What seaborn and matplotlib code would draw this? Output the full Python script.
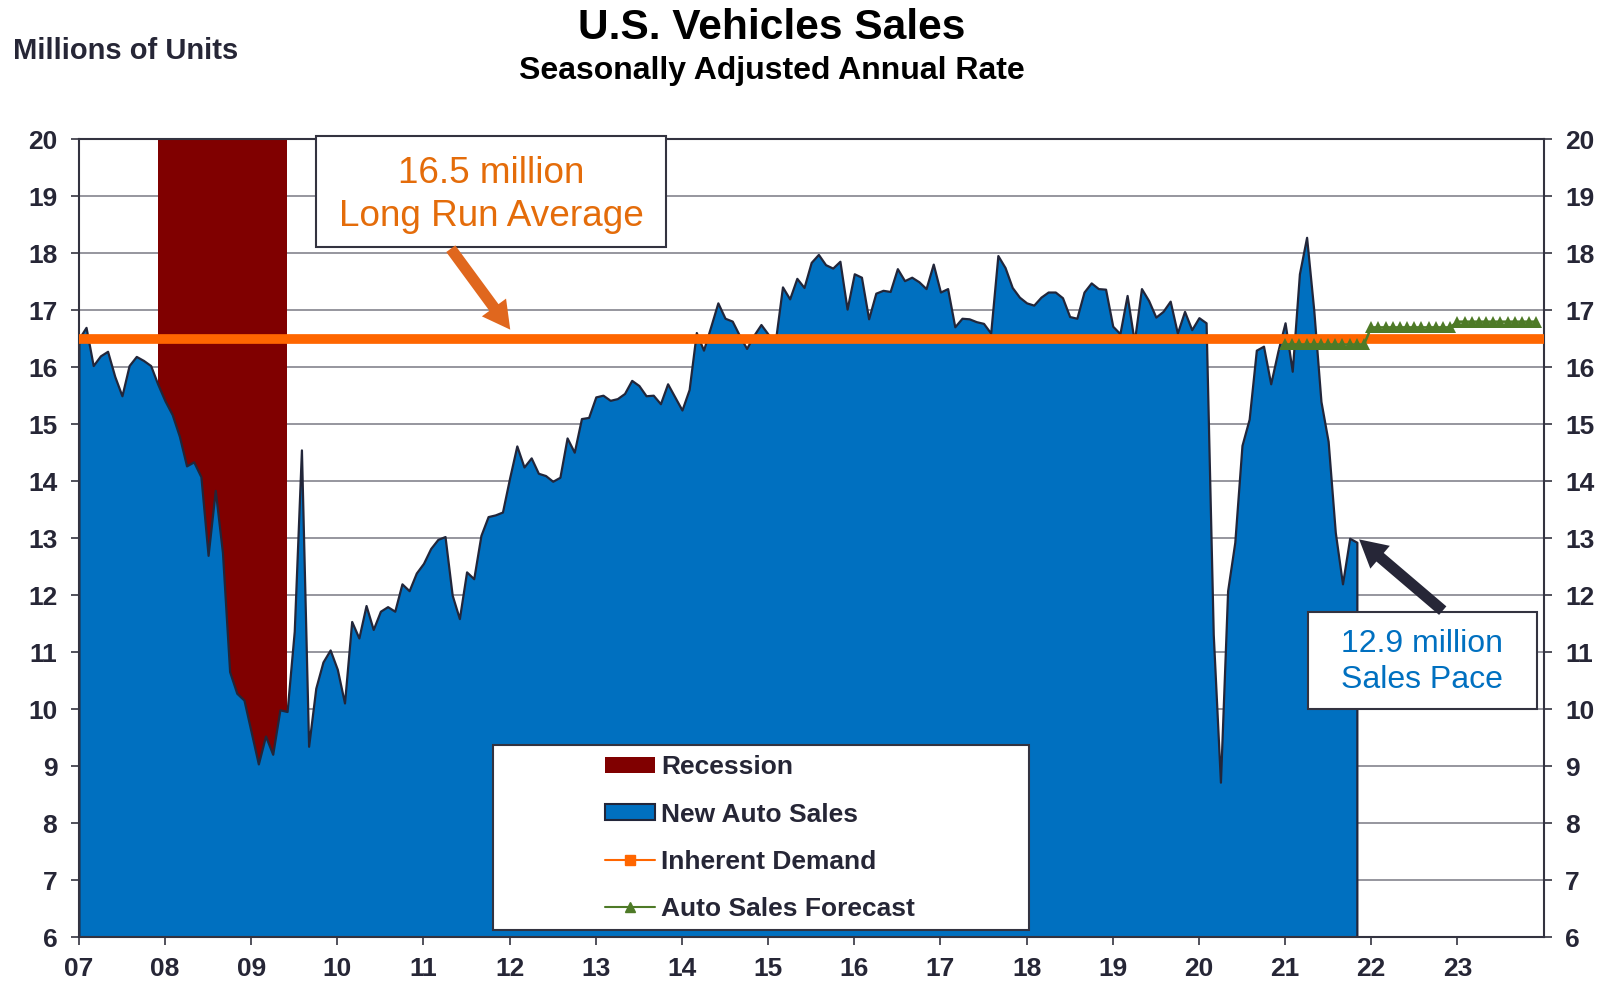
import numpy as np
import pandas as pd
import matplotlib
matplotlib.use('Agg')
import matplotlib.pyplot as plt
import seaborn as sns
from matplotlib.patches import Rectangle, Patch
from matplotlib.lines import Line2D

# New auto sales, SAAR, millions of units (monthly, Jan 2007 - Nov 2021)
sales_2007 = [16.5, 16.7, 16.03, 16.2, 16.28, 15.84, 15.5, 16.03, 16.19, 16.12, 16.03, 15.7]
sales_2008 = [15.41, 15.17, 14.79, 14.27, 14.34, 14.08, 12.7, 13.84, 12.75, 10.66, 10.28, 10.16]
sales_2009 = [9.6, 9.04, 9.53, 9.21, 9.99, 9.96, 11.37, 14.55, 9.35, 10.37, 10.83, 11.04]
sales_2010 = [10.7, 10.11, 11.54, 11.25, 11.82, 11.4, 11.72, 11.8, 11.72, 12.2, 12.08, 12.39]
sales_2011 = [12.56, 12.82, 12.98, 13.03, 12.0, 11.59, 12.41, 12.29, 13.05, 13.38, 13.41, 13.46]
sales_2012 = [14.06, 14.62, 14.25, 14.41, 14.14, 14.1, 14.0, 14.07, 14.76, 14.51, 15.1, 15.12]
sales_2013 = [15.48, 15.51, 15.42, 15.45, 15.54, 15.77, 15.68, 15.5, 15.51, 15.36, 15.71, 15.48]
sales_2014 = [15.25, 15.61, 16.61, 16.3, 16.71, 17.13, 16.86, 16.81, 16.56, 16.33, 16.56, 16.75]
sales_2015 = [16.58, 16.45, 17.41, 17.2, 17.56, 17.4, 17.84, 17.98, 17.8, 17.74, 17.86, 17.02]
sales_2016 = [17.64, 17.58, 16.85, 17.3, 17.35, 17.33, 17.73, 17.52, 17.58, 17.5, 17.38, 17.81]
sales_2017 = [17.32, 17.38, 16.71, 16.86, 16.85, 16.8, 16.77, 16.6, 17.96, 17.75, 17.4, 17.23]
sales_2018 = [17.13, 17.09, 17.23, 17.32, 17.32, 17.22, 16.89, 16.86, 17.32, 17.48, 17.38, 17.37]
sales_2019 = [16.72, 16.59, 17.26, 16.45, 17.38, 17.17, 16.88, 16.98, 17.16, 16.6, 16.98, 16.66]
sales_2020 = [16.87, 16.78, 11.31, 8.72, 12.08, 12.93, 14.63, 15.09, 16.3, 16.37, 15.71, 16.28]
sales_2021 = [16.78, 15.93, 17.64, 18.28, 17.0, 15.4, 14.7, 13.1, 12.2, 13.0, 12.93]

# Auto sales forecast (monthly, Jan 2021 - Dec 2023)
forecast_2021 = [16.4, 16.4, 16.4, 16.4, 16.4, 16.4, 16.4, 16.4, 16.4, 16.4, 16.4, 16.4]
forecast_2022 = [16.7, 16.7, 16.7, 16.7, 16.7, 16.7, 16.7, 16.7, 16.7, 16.7, 16.7, 16.7]
forecast_2023 = [16.8, 16.8, 16.8, 16.8, 16.8, 16.8, 16.8, 16.8, 16.8, 16.8, 16.8, 16.8]

inherent_demand = 16.5
recession_start = '2007-12-01'
recession_end = '2009-06-01'

year_ticks = list(range(2007, 2024))
year_labels = ['07', '08', '09', '10', '11', '12', '13', '14', '15', '16', '17',
               '18', '19', '20', '21', '22', '23']
y_ticks = list(range(6, 21))


def to_year(d):
    d = pd.to_datetime(d)
    return d.year + (d.month - 1) / 12


sales = (sales_2007 + sales_2008 + sales_2009 + sales_2010 + sales_2011 + sales_2012
         + sales_2013 + sales_2014 + sales_2015 + sales_2016 + sales_2017 + sales_2018
         + sales_2019 + sales_2020 + sales_2021)
dates = to_year(pd.date_range('2007-01-01', periods=len(sales), freq='MS'))
forecast = forecast_2021 + forecast_2022 + forecast_2023
forecast_dates = to_year(pd.date_range('2021-01-01', periods=len(forecast), freq='MS'))

blue = '#0070C0'
dark = '#262636'
orange = '#FF6600'
green = '#4E7A27'
maroon = '#800000'

sns.set_theme(style='white')
plt.rcParams['font.family'] = ['Liberation Sans', 'DejaVu Sans']

fig = plt.figure(figsize=(16.06, 9.85), dpi=100)
ax = fig.add_axes([0.0491, 0.0485, 0.912, 0.8101])

ax.set_xlim(2007, 2024)
ax.set_ylim(6, 20)
ax.set_yticks(y_ticks)
ax.set_xticks(year_ticks)
ax.set_xticklabels(year_labels)
ax.yaxis.grid(True, color='#8E8E96', lw=1.3)
ax.xaxis.grid(False)
ax.set_axisbelow(True)

# recession shading
ax.axvspan(to_year(recession_start), to_year(recession_end), color=maroon, lw=0, zorder=1)

# sales area
ax.fill_between(dates, 6, sales, facecolor=blue, edgecolor='#22263A', lw=1.6, zorder=2)

# long run average
ax.axhline(inherent_demand, color=orange, lw=7, zorder=3)

# forecast
sns.lineplot(x=forecast_dates, y=forecast, ax=ax, color=green, lw=1.8, marker='^',
             markersize=8, markeredgewidth=0, zorder=4)

for s in ax.spines.values():
    s.set_visible(True)
    s.set_color('#333340')
    s.set_linewidth(1.5)

ax.tick_params(axis='y', left=True, right=True, labelleft=True, labelright=True,
               direction='out', length=5.5, width=1.2, color='#333340', pad=10,
               labelsize=19, labelcolor=dark)
ax.tick_params(axis='x', bottom=True, direction='out', length=5.5, width=1.2,
               color='#333340', pad=9, labelsize=19, labelcolor=dark)
for t in ax.get_xticklabels() + ax.get_yticklabels():
    t.set_fontweight('bold')
ax.set_xlabel('')
ax.set_ylabel('')

# long run average callout
ax.add_patch(Rectangle((2009.754, 18.105), 4.065, 1.945, facecolor='white',
                       edgecolor='#333340', lw=1.5, zorder=5, clip_on=False))
ax.text(2011.79, 19.03, '16.5 million\nLong Run Average', ha='center', va='center',
        fontsize=26.6, color='#E46C0A', linespacing=1.3, zorder=6)
ax.annotate('', xy=(2012.007, 16.66), xytext=(2011.317, 18.08), zorder=6,
            arrowprops=dict(arrowstyle='simple,head_length=1.1,head_width=1.2,tail_width=0.45',
                            mutation_scale=18, color='#E0671E', lw=0,
                            shrinkA=0, shrinkB=0))

# sales pace callout
ax.add_patch(Rectangle((2021.267, 10.005), 2.653, 1.695, facecolor='white',
                       edgecolor='#333340', lw=1.5, zorder=5))
ax.text(2022.59, 10.83, '12.9 million\nSales Pace', ha='center', va='center',
        fontsize=23, color=blue, linespacing=1.25, zorder=6)
ax.annotate('', xy=(2021.86, 12.98), xytext=(2022.83, 11.73), zorder=6,
            arrowprops=dict(arrowstyle='simple,head_length=1.1,head_width=1.2,tail_width=0.45',
                            mutation_scale=18, color='#262637', lw=0,
                            shrinkA=0, shrinkB=0))

# legend
ax.add_patch(Rectangle((0.2825, 0.009), 0.3665, 0.2316, transform=ax.transAxes,
                       facecolor='white', edgecolor='#333340', lw=1.5, zorder=7))
handles = [
    Patch(facecolor=maroon, edgecolor='none'),
    Patch(facecolor=blue, edgecolor='#22263A', lw=1.5),
    Line2D([], [], color=orange, lw=1.5, marker='s', markersize=7),
    Line2D([], [], color=green, lw=1.5, marker='^', markersize=7),
]
labels = ['Recession', 'New Auto Sales', 'Inherent Demand', 'Auto Sales Forecast']
leg = ax.legend(handles, labels, loc='center left', bbox_to_anchor=(0.3594, 0.124),
                frameon=False, borderpad=0, borderaxespad=0, handlelength=1.9,
                handleheight=0.55, handletextpad=0.22, labelspacing=0.88,
                prop={'weight': 'bold', 'size': 19})
leg.set_zorder(8)
for t in leg.get_texts():
    t.set_color(dark)

# titles
fig.text(772 / 1606, 1 - 28 / 985, 'U.S. Vehicles Sales', ha='center', va='center',
         fontsize=30.6, fontweight='bold', color='black')
fig.text(772 / 1606, 1 - 71 / 985, 'Seasonally Adjusted Annual Rate', ha='center',
         va='center', fontsize=23, fontweight='bold', color='black')
fig.text(13 / 1606, 1 - 51 / 985, 'Millions of Units', ha='left', va='center',
         fontsize=21, fontweight='bold', color=dark)

fig.savefig('out.png', dpi=100)
